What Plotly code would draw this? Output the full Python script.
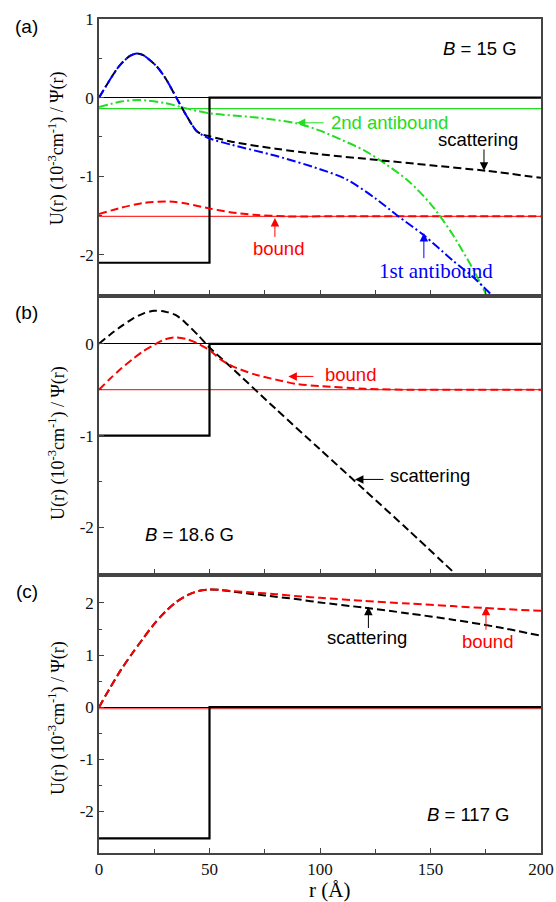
import plotly.graph_objects as go

# ---------------- data ----------------
# panel (a): B = 15 G
well_a_r = [0, 50, 50, 200]
well_a_u = [-2.1, -2.1, 0, 0]
level_red_a = -1.51
level_green_a = -0.14
scat_a_r = [0, 5, 8, 10, 14, 17, 20, 26, 30, 35, 40, 44, 47, 50, 60, 80, 100, 125, 150, 175, 200]
scat_a_u = [0, 0.23, 0.36, 0.43, 0.53, 0.56, 0.54, 0.40, 0.25, 0.0, -0.25, -0.42, -0.47, -0.49, -0.56, -0.65, -0.72, -0.79, -0.86, -0.93, -1.02]
anti1_a_r = [0, 5, 8, 10, 14, 17, 20, 26, 30, 35, 40, 44, 47, 50, 60, 80, 100, 112, 125, 135, 147, 160, 170, 178]
anti1_a_u = [0, 0.23, 0.36, 0.43, 0.53, 0.56, 0.54, 0.40, 0.25, 0.0, -0.25, -0.42, -0.48, -0.52, -0.60, -0.74, -0.91, -1.04, -1.28, -1.50, -1.75, -2.07, -2.30, -2.52]
anti2_a_r = [0, 10, 18, 30, 40, 50, 70, 90, 100, 110, 120, 130, 140, 150, 160, 170, 176]
anti2_a_u = [-0.12, -0.05, -0.03, -0.07, -0.14, -0.20, -0.25, -0.33, -0.42, -0.54, -0.67, -0.85, -1.06, -1.35, -1.74, -2.22, -2.55]
bound_a_r = [0, 10, 20, 32, 40, 50, 60, 70, 85, 100, 200]
bound_a_u = [-1.48, -1.40, -1.34, -1.32, -1.35, -1.41, -1.46, -1.49, -1.51, -1.51, -1.51]

# panel (b): B = 18.6 G
well_b_r = [0, 50, 50, 200]
well_b_u = [-1.0, -1.0, 0, 0]
level_red_b = -0.5
scat_b_r = [0, 5, 10, 15, 20, 25, 30, 35, 40, 45, 50, 60, 80, 100, 120, 140, 160]
scat_b_u = [0, 0.10, 0.19, 0.27, 0.33, 0.36, 0.35, 0.31, 0.21, 0.09, -0.04, -0.26, -0.71, -1.15, -1.59, -2.03, -2.48]
bound_b_r = [0, 5, 10, 15, 20, 25, 30, 35, 40, 45, 50, 55, 60, 70, 80, 90, 100, 120, 140, 200]
bound_b_u = [-0.5, -0.38, -0.27, -0.17, -0.08, -0.01, 0.05, 0.07, 0.05, 0.0, -0.07, -0.17, -0.24, -0.33, -0.39, -0.44, -0.46, -0.49, -0.5, -0.5]

# panel (c): B = 117 G
well_c_r = [0, 50, 50, 200]
well_c_u = [-2.52, -2.52, 0, 0]
level_red_c = -0.03
scat_c_r = [0, 5, 10, 15, 20, 25, 30, 35, 40, 45, 50, 55, 60, 70, 80, 90, 100, 120, 140, 160, 180, 200]
scat_c_u = [0, 0.37, 0.72, 1.03, 1.32, 1.60, 1.83, 2.02, 2.15, 2.23, 2.26, 2.25, 2.22, 2.17, 2.12, 2.07, 2.01, 1.91, 1.80, 1.68, 1.54, 1.37]
bound_c_r = [0, 5, 10, 15, 20, 25, 30, 35, 40, 45, 50, 55, 60, 70, 80, 90, 100, 120, 140, 160, 180, 200]
bound_c_u = [0, 0.37, 0.72, 1.03, 1.32, 1.60, 1.83, 2.02, 2.15, 2.23, 2.26, 2.25, 2.23, 2.20, 2.17, 2.13, 2.10, 2.04, 1.99, 1.94, 1.89, 1.85]

x_tickvals = [0, 50, 100, 150, 200]
x_ticktext = ["0", "50", "100", "150", "200"]
ya_tickvals = [-2, -1, 0, 1]
ya_ticktext = ["-2", "-1", "0", "1"]
yb_tickvals = [-2, -1, 0]
yb_ticktext = ["-2", "-1", "0"]
yc_tickvals = [-2, -1, 0, 1, 2]
yc_ticktext = ["-2", "-1", "0", "1", "2"]

# ---------------- style ----------------
SERIF = "Liberation Serif"
SANS = "Liberation Sans"
BLACK = "#000000"
RED = "#ff0000"
GREEN = "#22dd22"
BLUE = "#0000ff"
DASH = "8px,4px"
DASHDOT = "9px,3px,2px,3px"
ANN_SIZE = 18.5

fig = go.Figure()


def add(r, u, color, width, dash, ax, shape="spline"):
    fig.add_trace(go.Scatter(x=r, y=u, mode="lines",
                             line=dict(color=color, width=width, dash=dash, shape=shape, smoothing=0.8),
                             xaxis="x" + ax, yaxis="y" + ax, showlegend=False, hoverinfo="skip"))


# panel a  (axis suffix "")
add([0, 200], [level_red_a, level_red_a], "#ff3030", 1.2, "solid", "", "linear")
add([0, 200], [level_green_a, level_green_a], GREEN, 1.2, "solid", "", "linear")
add(well_a_r, well_a_u, BLACK, 2.2, "solid", "", "linear")
add(bound_a_r, bound_a_u, RED, 2, DASH, "")
add(anti2_a_r, anti2_a_u, GREEN, 2, DASHDOT, "")
add(scat_a_r, scat_a_u, BLACK, 2, DASH, "")
add(anti1_a_r, anti1_a_u, BLUE, 2, DASHDOT, "")

# panel b
add([0, 200], [level_red_b, level_red_b], "#ff3030", 1.2, "solid", "2", "linear")
add(well_b_r, well_b_u, BLACK, 2.2, "solid", "2", "linear")
add(scat_b_r, scat_b_u, BLACK, 2, DASH, "2")
add(bound_b_r, bound_b_u, RED, 2, DASH, "2")

# panel c
add([0, 200], [level_red_c, level_red_c], "#ff3030", 1.2, "solid", "3", "linear")
add(well_c_r, well_c_u, BLACK, 2.2, "solid", "3", "linear")
add(scat_c_r, scat_c_u, BLACK, 2, DASH, "3")
add(bound_c_r, bound_c_u, RED, 2, DASH, "3")

frame = dict(showline=True, mirror=True, linecolor="#444444", linewidth=1.5,
             showgrid=False, ticks="inside", ticklen=5, tickcolor="#444444",
             automargin=False,
             tickfont=dict(family=SERIF, size=17, color="#111111"))


def xax(show_labels):
    d = dict(frame)
    d.update(range=[0, 200], tickmode="array", tickvals=x_tickvals,
             ticktext=x_ticktext if show_labels else [""] * 5,
             showticklabels=show_labels, zeroline=False,
             minor=dict(ticks="inside", ticklen=4, tickcolor="#444444", dtick=25, tick0=0))
    return d


def yax(rng, tv, tt, dom, anchor):
    d = dict(frame)
    d.update(range=rng, tickmode="array", tickvals=tv, ticktext=tt, domain=dom,
             anchor=anchor, zeroline=True, zerolinecolor="#000000", zerolinewidth=1,
             minor=dict(ticks="inside", ticklen=3, tickcolor="#444444", dtick=0.5, tick0=0))
    return d


fig.update_layout(
    width=556, height=902,
    margin=dict(l=99, r=15, t=19, b=49, autoexpand=False),
    paper_bgcolor="white", plot_bgcolor="white",
    xaxis=dict(xax(False), anchor="y"),
    xaxis2=dict(xax(False), anchor="y2", matches="x"),
    xaxis3=dict(xax(True), anchor="y3", matches="x"),
    yaxis=yax([-2.5, 1.0], ya_tickvals, ya_ticktext, [0.670, 1.0], "x"),
    yaxis2=yax([-2.5, 0.5], yb_tickvals, yb_ticktext, [0.3355, 0.6655], "x2"),
    yaxis3=yax([-2.8, 2.5], yc_tickvals, yc_ticktext, [0.0, 0.331], "x3"),
)

ann = []


def text(x, y, t, ax, color=BLACK, size=ANN_SIZE, family=SANS, xanchor="center"):
    ann.append(dict(x=x, y=y, xref="x" + ax, yref="y" + ax, text=t, showarrow=False,
                    font=dict(family=family, size=size, color=color), xanchor=xanchor, yanchor="middle"))


def arrow(x0, y0, x1, y1, ax, color=BLACK):
    ann.append(dict(x=x1, y=y1, ax=x0, ay=y0, xref="x" + ax, yref="y" + ax,
                    axref="x" + ax, ayref="y" + ax, text="", showarrow=True,
                    arrowhead=2, arrowsize=1.7, arrowwidth=1, arrowcolor=color))


# panel a annotations
text(172.4, 0.63, "<i>B</i> = 15 G", "")
text(104.1, -0.32, "2nd antibound", "", GREEN, xanchor="left")
arrow(102.3, -0.32, 89.5, -0.32, "", GREEN)
text(171.5, -0.535, "scattering", "")
arrow(174.2, -0.64, 174.2, -0.93, "")
text(81.1, -1.915, "bound", "", RED)
arrow(79.6, -1.79, 79.6, -1.53, "", RED)
text(152.6, -2.21, "1st antibound", "", BLUE, size=21, family=SERIF)
arrow(147, -2.06, 147, -1.72, "", BLUE)

# panel b annotations
text(101.2, -0.33, "bound", "2", RED, xanchor="left")
arrow(97.7, -0.355, 85.7, -0.355, "2", RED)
text(130.9, -1.44, "scattering", "2", xanchor="left")
arrow(129.4, -1.478, 115.8, -1.478, "2")
text(40.8, -2.08, "<i>B</i> = 18.6 G", "2")

# panel c annotations
text(121.1, 1.33, "scattering", "3")
arrow(121.9, 1.49, 121.9, 1.93, "3")
text(175.8, 1.27, "bound", "3", RED)
arrow(175.1, 1.46, 175.1, 1.93, "3", RED)
text(167, -2.06, "<i>B</i> = 117 G", "3")

# panel labels, axis titles
ytitle = "U(r) (10<sup>-3</sup>cm<sup>-1</sup>) / Ψ(r)"
for lab, py in [("(a)", 0.9916), ("(b)", 0.648), ("(c)", 0.313)]:
    ann.append(dict(x=-0.164, y=py, xref="paper", yref="paper", text=lab, showarrow=False,
                    font=dict(family=SANS, size=19, color=BLACK), xanchor="center", yanchor="middle"))
for py in [0.845, 0.4916, 0.162]:
    ann.append(dict(x=-0.095, y=py, xref="paper", yref="paper", text=ytitle, showarrow=False,
                    textangle=-90, font=dict(family=SERIF, size=18, color=BLACK),
                    xanchor="center", yanchor="middle"))
ann.append(dict(x=0.5226, y=-0.044, xref="paper", yref="paper", text="r (Å)", showarrow=False,
                font=dict(family=SERIF, size=21, color=BLACK), xanchor="center", yanchor="middle"))

fig.update_layout(annotations=ann)
fig.write_html("out.html")
